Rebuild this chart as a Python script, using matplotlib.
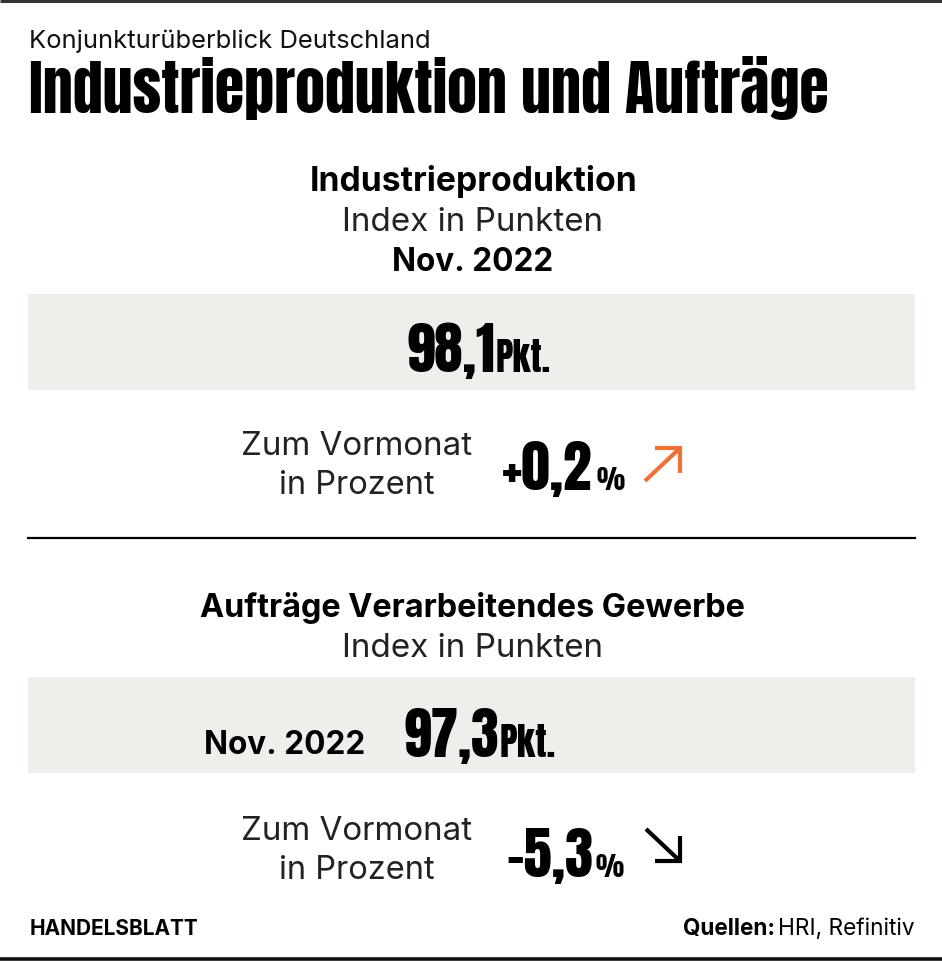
import matplotlib
matplotlib.use('Agg')
import matplotlib.pyplot as plt
from matplotlib.patches import Rectangle
from matplotlib.font_manager import FontProperties, fontManager
from matplotlib.textpath import TextPath

# content
kicker = "Konjunkturüberblick Deutschland"
title = "Industrieproduktion und Aufträge"
panel_titles = ["Industrieproduktion", "Aufträge Verarbeitendes Gewerbe"]
panel_sub = "Index in Punkten"
period = "Nov. 2022"
index_values = [98.1, 97.3]
change_values = [0.2, -5.3]
change_label = ["Zum Vormonat", "in Prozent"]
source_brand = "HANDELSBLATT"
source_label = "Quellen:"
source_text = "HRI, Refinitiv"


def pick(candidates):
    # first (family, weight) that exists as a real face
    have = {(f.name, f.weight) for f in fontManager.ttflist}
    for fam, wt in candidates:
        if (fam, wt) in have:
            return FontProperties(family=[fam, 'DejaVu Sans'], weight=wt)
    return FontProperties(family=['DejaVu Sans'], weight='bold')


DISPLAY = pick([('Anton', 400), ('Saira ExtraCondensed', 900), ('Fira Sans Extra Condensed', 900),
                ('Barlow Condensed', 900), ('Bebas Neue', 400)])
TITLE = DISPLAY
BODY = FontProperties(family=['Inter', 'Roboto', 'DejaVu Sans'], weight='normal')
BODY_B = FontProperties(family=['Inter', 'Roboto', 'DejaVu Sans'], weight='bold')
BOX = '#efeeea'
ORANGE = '#f07138'
PX = 100 / 72  # pixels per point

W, H = 942, 962
fig = plt.figure(figsize=(W / 100, H / 100), dpi=100)
ax = fig.add_axes([0, 0, 1, 1])
ax.set_xlim(0, W)
ax.set_ylim(H, 0)
ax.axis('off')


def ink(s, fp):
    ext = TextPath((0, 0), s, size=1, prop=fp).get_extents()
    return ext.x0, ext.width, ext.height


def put(s, fp, base, left=None, center=None, right=None, width=None, height=None,
        size=None, color='black'):
    # size the text so that its ink has the given width and/or height, place by ink box
    x0, w1, h1 = ink(s, fp)
    if size is None:
        sw = width / (w1 * PX) if width is not None else None
        sh = height / (h1 * PX) if height is not None else None
        if sw and sh:
            size = (sw * sh) ** 0.5
        else:
            size = sw or sh
    w = w1 * size * PX
    if center is not None:
        left = center - w / 2
    elif right is not None:
        left = right - w
    ax.text(left - x0 * size * PX, base, s, fontproperties=fp, fontsize=size,
            va='baseline', ha='left', color=color)
    return left, left + w


def fmt_num(v, sign=False):
    s = f"{v:+.1f}" if sign else f"{v:.1f}"
    return s.replace('.', ',')


def draw_arrow(x0, y0, x1, y1, up, color):
    ax.plot([x0, x1], [y1, y0] if up else [y0, y1], color=color, lw=3.0, solid_capstyle='butt')
    hy = y0 if up else y1
    vy = y0 + 25 if up else y1 - 25
    ax.plot([x1 - 25, x1, x1], [hy, hy, vy], color=color, lw=3.0,
            solid_capstyle='butt', solid_joinstyle='miter')


# top and bottom rules
ax.plot([0, W], [1.5, 1.5], color='#333333', lw=2.2, solid_capstyle='butt')
ax.plot([0, W], [959.5, 959.5], color='#111111', lw=2.6, solid_capstyle='butt')

put(kicker, BODY, 48, left=31, width=398, color='#111111')
put(title, TITLE, 113, left=31, width=796)

# panel 1
put(panel_titles[0], BODY_B, 191, center=473, width=322)
put(panel_sub, BODY, 231, center=473, width=256, color='#222222')
put(period, BODY_B, 271, center=473, width=157)
ax.add_patch(Rectangle((28, 295), 887, 96, color=BOX, lw=0))
l, r = put(fmt_num(index_values[0]), DISPLAY, 372, left=408, width=82, height=59)
put("Pkt.", DISPLAY, 372, left=r + 3, width=48, height=35)

put(change_label[0], BODY, 455, center=357, width=229, color='#222222')
put(change_label[1], BODY, 494, center=357, width=153, color='#222222')
up = change_values[0] > 0
l, r = put(fmt_num(change_values[0], sign=True), DISPLAY, 490, left=503, width=87, height=57)
put("%", DISPLAY, 490, left=r + 6, width=19, height=33)
draw_arrow(645, 449, 680, 482, up, ORANGE if up else 'black')

ax.plot([28, 915], [538.5, 538.5], color='black', lw=1.6)

# panel 2
put(panel_titles[1], BODY_B, 617, center=473, width=544)
put(panel_sub, BODY, 657, center=473, width=256, color='#222222')
ax.add_patch(Rectangle((28, 678), 887, 96, color=BOX, lw=0))
put(period, BODY_B, 754, left=206, width=157)
l, r = put(fmt_num(index_values[1]), DISPLAY, 757, left=405, width=85, height=60)
put("Pkt.", DISPLAY, 757, left=r + 3, width=50, height=35)

put(change_label[0], BODY, 840, center=357, width=229, color='#222222')
put(change_label[1], BODY, 879, center=357, width=153, color='#222222')
up = change_values[1] > 0
l, r = put(fmt_num(change_values[1], sign=True), DISPLAY, 877, left=508, width=80, height=58)
put("%", DISPLAY, 877, left=r + 4, width=19, height=33)
draw_arrow(646, 830, 680, 862, up, ORANGE if up else 'black')

# footer
put(source_brand, BODY_B, 935, left=31, width=167)
wl = ink(source_label, BODY_B)[1]
wt = ink(source_text, BODY)[1]
fsize = (230 - 7) / ((wl + wt) * PX)
l, r = put(source_text, BODY, 935, right=914, size=fsize)
put(source_label, BODY_B, 935, right=l - 7, size=fsize)

fig.savefig('out.png', dpi=100)
